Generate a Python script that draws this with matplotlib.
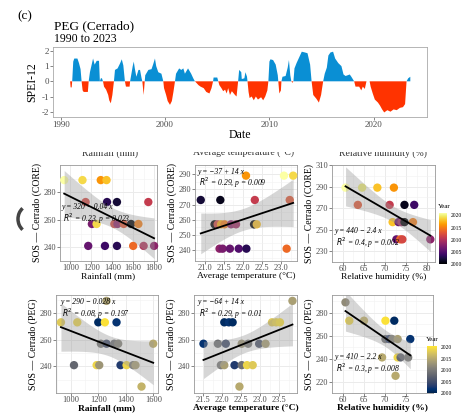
import numpy as np
import matplotlib as mpl
import matplotlib.pyplot as plt
from matplotlib.patches import Rectangle, Arc

W, H = 465, 415
DPI = 100

plt.rcParams['font.family'] = ['Liberation Serif', 'DejaVu Serif']
plt.rcParams['axes.unicode_minus'] = False

# SPEI-12 (PEG, Cerrado): decimal year, value
spei_t = [1990.90, 1990.95, 1991.05, 1991.10, 1991.2, 1991.3, 1991.6, 1991.75, 1991.9, 1992.0,
          1992.1, 1992.2, 1992.6, 1992.68, 1992.8, 1993.0, 1993.1, 1993.25, 1993.45, 1993.67,
          1993.75, 1993.85, 1993.95, 1994.05, 1994.15, 1994.35, 1994.55, 1994.65, 1994.8, 1994.95,
          1995.1, 1995.2, 1995.45, 1995.7, 1995.85, 1996.0, 1996.15, 1996.25, 1996.6, 1996.65,
          1996.75, 1996.9, 1997.0, 1997.1, 1997.25, 1997.45, 1997.6, 1997.75, 1997.82, 1997.95,
          1998.05, 1998.1, 1998.4, 1998.7, 1998.85, 1999.03, 1999.15, 1999.35, 1999.65, 1999.83,
          1999.9, 2000.1, 2000.25, 2000.47, 2000.65, 2000.8, 2000.95, 2001.05, 2001.35, 2001.55,
          2001.75, 2001.9, 2002.2, 2002.5, 2002.7, 2002.86, 2003.0, 2003.2, 2003.4, 2003.7,
          2003.95, 2004.25, 2004.45, 2004.6, 2004.65, 2005.0, 2005.1, 2005.2, 2005.4, 2005.57,
          2005.75, 2005.9, 2006.05, 2006.22, 2006.4, 2006.7, 2006.85, 2007.0, 2007.1, 2007.3,
          2007.35, 2007.6, 2007.7, 2007.85, 2007.9, 2008.0, 2008.1, 2008.3, 2008.5, 2008.7,
          2008.9, 2009.2, 2009.4, 2009.6, 2009.8, 2009.9, 2010.0, 2010.1, 2010.35, 2010.6,
          2010.8, 2010.85, 2010.95, 2011.1, 2011.15, 2011.25, 2011.55, 2011.75, 2011.87, 2012.0,
          2012.1, 2012.2, 2012.3, 2012.4, 2012.6, 2012.8, 2013.1, 2013.4, 2013.65, 2013.9,
          2014.04, 2014.2, 2014.5, 2014.74, 2014.95, 2015.15, 2015.3, 2015.5, 2015.65, 2015.85,
          2016.1, 2016.3, 2016.6, 2016.9, 2017.1, 2017.3, 2017.7, 2017.85, 2018.12, 2018.25,
          2018.6, 2018.8, 2018.95, 2019.14, 2019.3, 2019.6, 2019.7, 2019.9, 2020.1, 2020.4,
          2020.6, 2020.8, 2021.0, 2021.3, 2021.6, 2021.9, 2022.2, 2022.5, 2022.8, 2023.0,
          2023.14, 2023.3, 2023.5]
spei_v = [0, -0.4, -0.4, 0, 1.3, 1.5, 1.5, 1.2, 0.8, 0,
          -0.6, -0.7, -0.7, 0, 0.6, 1.2, 1.5, 1.1, 1.35, 1.35,
          0, 0.2, 0.2, 0, -0.35, -0.55, -0.9, -1.25, -1.45, -0.9,
          0, 0.75, 0.85, 1.2, 1.45, 1.05, 0, -0.35, -0.35, 0,
          0.4, 1.0, 1.3, 0.85, 0.3, 0.75, 0.75, 0.2, 0, -0.9,
          0, 0.4, 0.75, 0.8, 1.1, 1.5, 1.0, 0.6, 0.5, 0,
          -0.45, -0.9, -1.3, -1.55, -1.3, -0.7, 0, 0.5, 0.85, 0.75,
          0.85, 0.5, 0.85, 0.5, 0.2, 0, -0.1, -0.25, -0.35, -0.45,
          -0.7, -0.8, -0.45, 0, 0.25, 0.25, 0, -0.25, -0.45, -0.65,
          -0.55, -0.8, -0.45, -0.9, -0.65, -0.9, -1.0, 0, 0.75, 0.6,
          0.15, 0.2, 0.6, 0.3, 0, -0.7, -1.1, -1.0, -1.25, -1.0,
          -1.2, -1.05, -1.25, -1.0, -0.6, 0, 1.3, 1.45, 1.4, 1.1,
          0.4, 0, -0.8, -0.6, 0, 0.3, 0.35, 0.9, 1.4, 0.4,
          0, -0.1, 0, 0.85, 1.2, 1.5, 1.95, 1.9, 1.85, 1.1,
          0, -0.9, -1.15, -1.4, -0.9, 0, 0.5, 0.9, 1.7, 1.9,
          1.95, 1.5, 1.2, 1.0, 0.45, 0.35, 0.45, 0.3, 0, -0.35,
          -0.35, -0.6, -0.35, -0.5, 0, 0, -0.35, -0.8, -1.2, -1.4,
          -1.6, -1.85, -2.05, -1.9, -2.0, -1.85, -1.9, -1.75, -1.7, -1.5,
          0, 0.2, 0.3]

# SOS vs climate, Cerrado (CORE)
core_rain = [940, 1115, 1290, 1345, 1145, 1350, 1445, 1745, 1205, 1250, 1420,
             1450, 1510, 1580, 1650, 1170, 1330, 1445, 1600, 1700, 1800]
core_rain_sos = [289, 289, 289, 289, 273, 273, 273, 273, 257, 257, 257,
                 257, 257, 257, 257, 241, 241, 241, 241, 241, 241]
core_rain_year = [2021, 2019, 2016, 2018, 2012, 2003, 2002, 2011, 2007, 2019, 2012,
                  2008, 2013, 2000, 2015, 2006, 2004, 2003, 2014, 2010, 2008]

core_temp = [20.9, 21.41, 22.08, 23.07, 23.31, 22.31, 23.22, 21.26, 21.34, 21.43, 21.52,
             21.69, 21.82, 22.29, 22.36, 21.39, 21.47, 21.66, 21.89, 22.09, 23.14]
core_temp_sos = [273, 273, 289, 289, 289, 273, 273, 257, 257, 257, 257,
                 257, 257, 257, 257, 241, 241, 241, 241, 241, 241]
core_temp_year = [2002, 2001, 2016, 2021, 2019, 2011, 2013, 2000, 2012, 2017, 2015,
                  2008, 2009, 2000, 2018, 2008, 2007, 2006, 2005, 2003, 2014]

core_rh = [60.7, 64.6, 68.2, 72.1, 63.6, 71.1, 74.6, 76.9, 71.8, 73.2, 73.9,
           74.6, 76.6, 72.7, 73.6, 74.1, 80.7]
core_rh_sos = [289, 289, 289, 289, 273, 273, 273, 273, 257, 257, 257,
               257, 257, 241, 241, 241, 241]
core_rh_year = [2021, 2020, 2018, 2016, 2013, 2011, 2001, 2004, 2018, 2006, 2009,
                2000, 2015, 2006, 2014, 2012, 2008]

# SOS vs climate, Cerrado (PEG)
peg_rain = [1259, 927, 1046, 1199, 1247, 1332, 1218, 1259, 1315, 1344, 1599,
            1022, 1187, 1206, 1361, 1405, 1453, 1470, 1514]
peg_rain_sos = [289, 273, 273, 273, 273, 273, 257, 257, 257, 257, 257,
                241, 241, 241, 241, 241, 241, 241, 225]
peg_rain_year = [2014, 2018, 2019, 2001, 2020, 2002, 2010, 2005, 2009, 2011, 2015,
                 2008, 2019, 2013, 2003, 2019, 2010, 2014, 2016]

peg_temp = [23.85, 22.05, 22.17, 22.27, 23.31, 23.42, 23.52, 21.5, 21.88, 22.09, 22.51,
            22.68, 22.97, 23.14, 21.96, 22.05, 22.32, 22.51, 22.65, 22.8, 22.45]
peg_temp_sos = [289, 273, 273, 273, 273, 273, 273, 257, 257, 257, 257,
                257, 257, 257, 241, 241, 241, 241, 241, 241, 225]
peg_temp_year = [2014, 2001, 2002, 2001, 2018, 2019, 2020, 2002, 2009, 2005, 2013,
                 2010, 2006, 2014, 2010, 2014, 2003, 2009, 2019, 2018, 2015]

peg_rh = [60.7, 61.6, 65.1, 70.2, 72.3, 70.2, 71.1, 71.8, 73.1, 76.1,
          69.4, 73.1, 73.8, 75.6, 72.6]
peg_rh_sos = [289, 273, 273, 273, 273, 257, 257, 257, 257, 257,
              241, 241, 241, 241, 225]
peg_rh_year = [2012, 2019, 2016, 2020, 2001, 2009, 2004, 2011, 2014, 2002,
               2015, 2019, 2008, 2010, 2015]

year_ticks = [2000, 2005, 2010, 2015, 2020]


def px_axes(fig, x0, y0, x1, y1):
    return fig.add_axes([x0 / W, 1 - y1 / H, (x1 - x0) / W, (y1 - y0) / H])


def ftext(fig, x, y, s, **kw):
    return fig.text(x / W, 1 - y / H, s, **kw)


def scatter_panel(ax, x, y, yr, cmap, vmin, vmax, xlim, ylim, xticks, yticks,
                  xlabel, ylabel, eq, txt_xy, bold):
    x = np.asarray(x, float)
    y = np.asarray(y, float)
    ax.set_xlim(*xlim)
    ax.set_ylim(*ylim)
    ax.set_xticks(xticks)
    ax.set_yticks(yticks)
    dx = xticks[1] - xticks[0]
    dy = yticks[1] - yticks[0]
    ax.set_xticks(np.arange(xticks[0] - dx / 2, xlim[1], dx), minor=True)
    ax.set_yticks(np.arange(yticks[0] - dy / 2, ylim[1], dy), minor=True)
    ax.grid(True, which='major', color='#ebebeb', lw=0.7, zorder=0)
    ax.grid(True, which='minor', color='#f2f2f2', lw=0.4, zorder=0)
    ax.set_axisbelow(True)
    ax.tick_params(which='minor', length=0)
    ax.tick_params(which='major', length=2, width=0.5, color='#555555',
                   labelsize=6, labelcolor='#4d4d4d', pad=1)
    ax.tick_params(axis='x', pad=0.5)
    for sp in ax.spines.values():
        sp.set_color('#999999')
        sp.set_linewidth(0.6)

    ax.scatter(x, y, c=yr, cmap=cmap, vmin=vmin, vmax=vmax, s=36,
               edgecolors='none', zorder=3, clip_on=False)

    # linear fit with 95% confidence band
    n = len(x)
    b, a = np.polyfit(x, y, 1)
    xs = np.linspace(x.min(), x.max(), 100)
    ys = a + b * xs
    resid = y - (a + b * x)
    s = np.sqrt(np.sum(resid ** 2) / (n - 2))
    sxx = np.sum((x - x.mean()) ** 2)
    tval = 1.96 + 2.4 / (n - 2)
    half = tval * s * np.sqrt(1 / n + (xs - x.mean()) ** 2 / sxx)
    ax.fill_between(xs, ys - half, ys + half, color='#999999', alpha=0.4,
                    lw=0, zorder=4)
    ax.plot(xs, ys, color='black', lw=1.3, zorder=5)

    tx, ty = txt_xy
    ax.text(tx, ty, eq[0], transform=ax.transAxes, fontsize=5.5,
            style='italic', zorder=6, va='top')
    ax.text(tx + 0.01, ty - 0.085, eq[1], transform=ax.transAxes, fontsize=5.5,
            style='italic', zorder=6, va='top')

    w = 'bold' if bold else 'normal'
    ax.set_xlabel(xlabel, fontsize=6.8, labelpad=0, fontweight=w)
    ax.set_ylabel(ylabel, fontsize=7, labelpad=1)


def year_bar(fig, x0, y0, x1, y1, cmap, vmin, vmax):
    cax = px_axes(fig, x0, y0, x1, y1)
    sm = mpl.cm.ScalarMappable(norm=mpl.colors.Normalize(vmin, vmax), cmap=cmap)
    cb = fig.colorbar(sm, cax=cax, ticks=year_ticks)
    cb.outline.set_visible(False)
    cax.tick_params(length=1.5, width=0.4, color='white', labelsize=4, pad=1)
    ftext(fig, x0 - 1, y0 - 7, 'Year', fontsize=5, va='center')


fig = plt.figure(figsize=(W / DPI, H / DPI), dpi=DPI)

# ---- top: SPEI-12 time series ----
ftext(fig, 17, 16, '(c)', fontsize=9.5, va='center')
ftext(fig, 54, 26, 'PEG (Cerrado)', fontsize=9.5, va='center')
ftext(fig, 54, 39, '1990 to 2023', fontsize=8.5, va='center')

ax0 = px_axes(fig, 53, 47, 427, 117)
t = np.asarray(spei_t)
v = np.asarray(spei_v)
ax0.fill_between(t, v, 0, where=v >= 0, interpolate=True, color='#0a8fd4', lw=0)
ax0.fill_between(t, v, 0, where=v <= 0, interpolate=True, color='#ff3300', lw=0)
ax0.set_xlim(1989.26, 2025.1)
ax0.set_ylim(-2.35, 2.26)
ax0.set_xticks([1990, 2000, 2010, 2020])
ax0.set_yticks([-2, -1, 0, 1, 2])
ax0.tick_params(length=2, width=0.5, color='#555555', labelsize=6.5,
                labelcolor='#4d4d4d', pad=1)
for sp in ax0.spines.values():
    sp.set_color('#aaaaaa')
    sp.set_linewidth(0.6)
ax0.set_xlabel('Date', fontsize=8.5, labelpad=0)
ax0.set_ylabel('SPEI-12', fontsize=8.5, labelpad=2)

# clipped labels from the row above
ftext(fig, 110, 153, 'Rainfall (mm)', fontsize=7, ha='center', va='center', color='#333333')
ftext(fig, 243, 153, 'Average temperature (°C)', fontsize=7, ha='center', va='center', color='#333333')
ftext(fig, 383, 153, 'Relative humidity (%)', fontsize=7, ha='center', va='center', color='#333333')
fig.patches.append(Rectangle((0, 1 - 152.5 / H), 1, 10 / H, transform=fig.transFigure,
                             facecolor='white', edgecolor='none', zorder=10))

# loading mark on the left
fig.patches.append(Arc((31 / W, 1 - 219 / H), 26 / W, 28 / H, theta1=125, theta2=235,
                       transform=fig.transFigure, color='#444444', lw=2.5, zorder=11))

# ---- row 1: CORE (inferno) ----
ax = px_axes(fig, 60, 165, 157, 261)
scatter_panel(ax, core_rain, core_rain_sos, core_rain_year, 'inferno', 2000, 2021,
              (929, 1828), (230.7, 300), [1000, 1200, 1400, 1600, 1800], [240, 260, 280],
              'Rainfall (mm)', 'SOS — Cerrado (CORE)',
              ['y = 320 − 0.04 x', '$R^2$ = 0.23, p = 0.023'], (0.02, 0.6), False)

ax = px_axes(fig, 195, 165, 297, 261)
scatter_panel(ax, core_temp, core_temp_sos, core_temp_year, 'inferno', 2000, 2021,
              (20.78, 23.41), (232.9, 296), [21.0, 21.5, 22.0, 22.5, 23.0],
              [240, 250, 260, 270, 280, 290],
              'Average temperature (°C)', 'SOS — Cerrado (CORE)',
              ['y = −37 + 14 x', '$R^2$ = 0.29, p = 0.009'], (0.03, 0.97), False)

ax = px_axes(fig, 332, 165, 435, 262)
scatter_panel(ax, core_rh, core_rh_sos, core_rh_year, 'inferno', 2000, 2021,
              (59.8, 81.8), (226.4, 310), [60, 65, 70, 75, 80], [230, 250, 270, 290, 310],
              'Relative humidity (%)', 'SOS — Cerrado (CORE)',
              ['y = 440 − 2.4 x', '$R^2$ = 0.4, p = 0.002'], (0.03, 0.36), False)
year_bar(fig, 439, 213, 447, 264, 'inferno', 2000, 2021)

# ---- row 2: PEG (cividis) ----
ax = px_axes(fig, 56, 295, 158, 393)
scatter_panel(ax, peg_rain, peg_rain_sos, peg_rain_year, 'cividis', 2000, 2020.5,
              (891, 1634), (220.2, 293.4), [1000, 1200, 1400, 1600], [240, 260, 280],
              'Rainfall (mm)', 'SOS — Cerrado (PEG)',
              ['y = 290 − 0.028 x', '$R^2$ = 0.08, p = 0.197'], (0.05, 0.97), True)

ax = px_axes(fig, 194, 295, 297, 393)
scatter_panel(ax, peg_temp, peg_temp_sos, peg_temp_year, 'cividis', 2000, 2020.5,
              (21.38, 23.97), (220.2, 293.4), [21.5, 22.0, 22.5, 23.0, 23.5], [240, 260, 280],
              'Average temperature (°C)', 'SOS — Cerrado (PEG)',
              ['y = −64 + 14 x', '$R^2$ = 0.29, p = 0.01'], (0.04, 0.97), True)

ax = px_axes(fig, 332, 295, 433, 393)
scatter_panel(ax, peg_rh, peg_rh_sos, peg_rh_year, 'cividis', 2000, 2020.5,
              (59.8, 81.5), (220, 295.4), [60, 65, 70, 75], [220, 240, 260, 280],
              'Relative humidity (%)', 'SOS — Cerrado (PEG)',
              ['y = 410 − 2.2 x', '$R^2$ = 0.3, p = 0.008'], (0.03, 0.41), True)
year_bar(fig, 427, 346, 437, 393, 'cividis', 2000, 2020.5)

fig.savefig('out.png', dpi=DPI)
